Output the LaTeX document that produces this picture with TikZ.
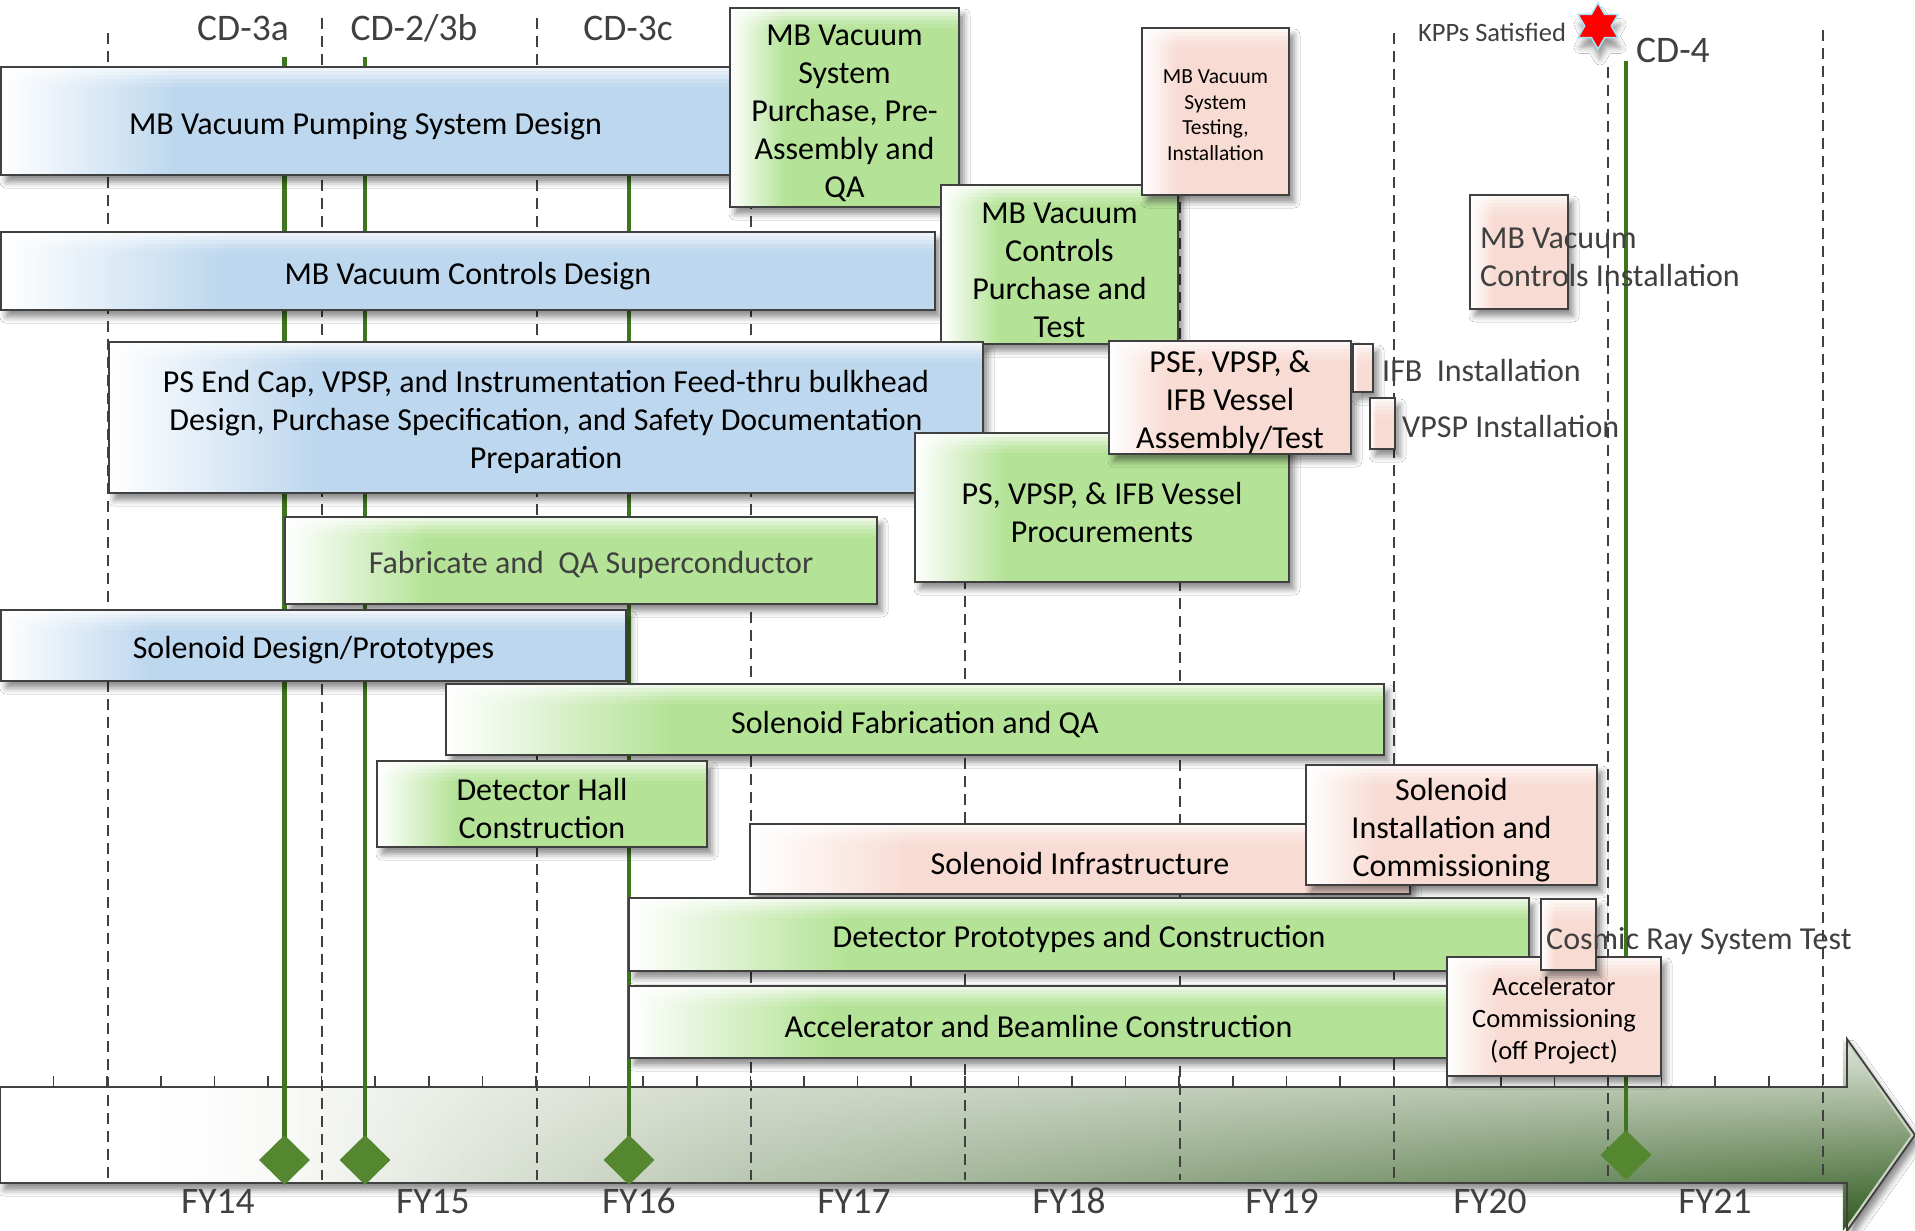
\documentclass[tikz,border=0pt]{standalone}
\usepackage{fontspec}
\setmainfont{Carlito}
\usepackage{tikz}
\usetikzlibrary{shadows,shadows.blur}
\usetikzlibrary{positioning}
\usetikzlibrary{shapes.geometric,fadings}

\definecolor{taskblue}{RGB}{189,215,238}
\definecolor{taskgreen}{RGB}{180,227,151}
\definecolor{taskpink}{RGB}{248,220,211}
\definecolor{edgegray}{RGB}{64,64,64}
\definecolor{labelgray}{RGB}{64,64,64}
\definecolor{msgreen}{RGB}{62,117,30}
\definecolor{msfill}{RGB}{84,135,48}
\definecolor{tlmid}{RGB}{222,228,216}
\definecolor{tlend}{RGB}{200,212,192}
\definecolor{tltop}{RGB}{226,232,220}
\definecolor{tlbot}{RGB}{40,84,22}

\pgfdeclarehorizontalshading{blueshade}{100bp}{color(0bp)=(white); color(25bp)=(white); color(37bp)=(taskblue); color(100bp)=(taskblue)}
\pgfdeclarehorizontalshading{greenshade}{100bp}{color(0bp)=(white); color(25bp)=(white); color(37bp)=(taskgreen); color(100bp)=(taskgreen)}
\pgfdeclarehorizontalshading{pinkshade}{100bp}{color(0bp)=(white); color(25bp)=(white); color(37bp)=(taskpink); color(100bp)=(taskpink)}
\pgfdeclarehorizontalshading{timeshade}{100bp}{color(0bp)=(white); color(29bp)=(white); color(45bp)=(tlmid); color(75bp)=(tlend); color(100bp)=(tlend)}

% style, name, x1, y1, x2, y2, text
\newcommand{\taskbox}[7]{%
  \node[#1, minimum width={(#5)-(#3)}, minimum height={(#6)-(#4)}] (#2)
    at ({((#3)+(#5))/2},{((#4)+(#6))/2}) {\rule{0pt}{1.0em}#7};}

\begin{document}
\begin{tikzpicture}[x=1pt, y=-1pt,
  task/.style={draw=edgegray, line width=1.8pt, inner sep=0pt, outer sep=0pt,
    align=center, shade, text=black, font=\fontsize{32}{38}\selectfont,
    blur shadow={shadow xshift=5pt, shadow yshift=-7pt, shadow blur radius=6pt, shadow opacity=45},
    path picture={\foreach \k/\op in {0/.75,4/.55,8/.38,12/.22,16/.1}{
      \fill[white, opacity=\op] ([yshift={-\k*1pt}]path picture bounding box.north west)
        rectangle ([yshift={-(\k+4)*1pt}]path picture bounding box.north east);}}},
  blue task/.style={task, shading=blueshade},
  green task/.style={task, shading=greenshade},
  pink task/.style={task, shading=pinkshade},
  small text/.style={font=\fontsize{21.5}{25.5}\selectfont},
  note/.style={text=labelgray, font=\fontsize{32}{38}\selectfont, inner sep=0pt, align=left},
  cdlabel/.style={text=labelgray, font=\fontsize{37.5}{42}\selectfont, inner sep=0pt, anchor=base},
  yearline/.style={edgegray, line width=2pt, dash pattern=on 11pt off 7pt},
  msstem/.style={msgreen, line width=4.5pt},
  milestone/.style={diamond, fill=msfill, minimum width=51pt, minimum height=50pt, inner sep=0pt}]

\useasboundingbox (0,0) rectangle (1915,1231);
\fill[white] (0,0) rectangle (1915,1231);

% time axis
\def\tlpath{(0,1087) -- (1847,1087) -- (1847,1039) -- (1915,1135) -- (1847,1231) -- (1847,1183) -- (0,1183) -- cycle}
\def\tlright{(300,1087) -- (1847,1087) -- (1847,1039) -- (1915,1135) -- (1847,1231) -- (1847,1183) -- (300,1183) -- cycle}
\shade[shading=timeshade, blur shadow={shadow xshift=4pt, shadow yshift=-7pt, shadow blur radius=6pt, shadow opacity=45}] \tlpath;
\shade[top color=tltop, bottom color=tlbot, path fading=west] \tlright;
\draw[edgegray, line width=1.8pt] \tlpath;
\foreach \i in {1,...,34}
  \draw[edgegray, line width=1.5pt] ({53.6*\i},1076) -- ({53.6*\i},1087);

% fiscal year boundaries
\foreach \x/\t in {108/33, 322/18, 537/18, 751/18, 965/200, 1180/40, 1394/33, 1608/67, 1823/30}
  \draw[yearline] (\x,\t) -- (\x,1180);

% milestones
\coordinate (msatop) at (284.5,57);
\coordinate (msbtop) at (365,57);
\coordinate (msctop) at (629,120);
\coordinate (msdtop) at (1626,61);
\coordinate (msapos) at (284.5,1160);
\coordinate (msbpos) at (365,1160);
\coordinate (mscpos) at (629,1160);
\coordinate (msdpos) at (1626,1155);
\draw[msstem] (msatop) -- (msapos);
\draw[msstem] (msbtop) -- (msbpos);
\draw[msstem] (msctop) -- (mscpos);
\draw[msstem] (msdtop) -- (msdpos);
\node[milestone] (msa) at (msapos) {};
\node[milestone] (msb) at (msbpos) {};
\node[milestone] (msc) at (mscpos) {};
\node[milestone] (msd) at (msdpos) {};

% tasks
\taskbox{blue task}{pumpdes}{1}{67}{730}{175}{MB Vacuum Pumping System Design}
\taskbox{green task}{vacpurch}{730}{8}{959}{207}{MB Vacuum\\System\\Purchase, Pre-\\Assembly and\\QA}
\taskbox{blue task}{ctrldes}{1}{232}{935}{310}{MB Vacuum Controls Design}
\taskbox{green task}{ctrlpurch}{941}{185}{1178}{344}{MB Vacuum\\Controls\\Purchase and\\Test}
\taskbox{pink task, small text}{vactest}{1142}{28}{1289}{195}{MB Vacuum\\System\\Testing,\\Installation}
\taskbox{pink task}{ctrlinst}{1470}{195}{1568}{309}{}
\taskbox{blue task}{endcap}{109}{342}{983}{493}{PS End Cap, VPSP, and Instrumentation Feed-thru bulkhead\\Design, Purchase Specification, and Safety Documentation\\Preparation}
\taskbox{green task}{vesproc}{915}{433}{1289}{582}{PS, VPSP, \& IFB Vessel\\Procurements}
\taskbox{pink task}{vesasm}{1109}{342}{1351}{453}{PSE, VPSP, \&\\IFB Vessel\\Assembly/Test}
\taskbox{pink task}{ifb}{1353}{344}{1373}{392}{}
\taskbox{pink task}{vpsp}{1370}{398}{1395}{449}{}
\taskbox{green task, text=labelgray}{supercond}{285}{517}{877}{604}{\hspace*{20pt}Fabricate and~ QA Superconductor}
\taskbox{blue task}{soldes}{1}{610}{626}{681}{Solenoid Design/Prototypes}
\taskbox{green task}{solfab}{446}{684}{1384}{755}{Solenoid Fabrication and QA}
\taskbox{green task}{dethall}{377}{761}{707}{847}{Detector Hall\\Construction}
\taskbox{pink task}{solinfra}{750}{824}{1410}{894}{Solenoid Infrastructure}
\taskbox{pink task}{solinst}{1306}{765}{1597}{885}{Solenoid\\Installation and\\Commissioning}
\taskbox{green task}{detproto}{629}{898}{1529}{971}{Detector Prototypes and Construction}
\taskbox{green task}{accbeam}{629}{986}{1448}{1058}{Accelerator and Beamline Construction}
\taskbox{pink task, font=\fontsize{26.5}{32}\selectfont}{acccomm}{1447}{957}{1661}{1076}{Accelerator\\Commissioning\\(off Project)}
\taskbox{pink task}{cosmic}{1541}{899}{1596}{970}{}

% labels that run past their boxes
\node[note, right=10pt of ctrlinst.west, yshift=-5pt] (ctrlinstnote) {MB Vacuum\\Controls Installation};
\node[note, right=9pt of ifb, yshift=-3pt] (ifbnote) {IFB~ Installation};
\node[note, right=7pt of vpsp, yshift=-3pt] (vpspnote) {VPSP Installation};
\node[note, right=5pt of cosmic.west, yshift=-7pt] (cosmicnote) {Cosmic Ray System Test};

% milestone names
\node[cdlabel] (cdthreea) at (243,41) {CD-3a};
\node[cdlabel] (cdtwob) at (414,41) {CD-2/3b};
\node[cdlabel] (cdthreec) at (628,41) {CD-3c};
\node[cdlabel, anchor=base west] (cdfour) at (1636,63) {CD-4};
\node[star, star points=6, star point ratio=1.73, minimum size=46pt, inner sep=0pt,
  fill=red, draw=cyan!35, line width=1.5pt,
  blur shadow={shadow xshift=2pt, shadow yshift=-10pt, shadow blur radius=6pt, shadow opacity=40}] (kpp) at (1598,26) {};
\node[note, font=\fontsize{26.5}{30}\selectfont, anchor=base west] (kppnote) at (1418,42) {KPPs Satisfied};

% fiscal years
\foreach \x/\y in {218/14, 433/15, 639/16, 854/17, 1069/18, 1282/19, 1490/20, 1715/21}
  \node[cdlabel] (fy\y) at (\x,1213) {FY\y};

\end{tikzpicture}
\end{document}
